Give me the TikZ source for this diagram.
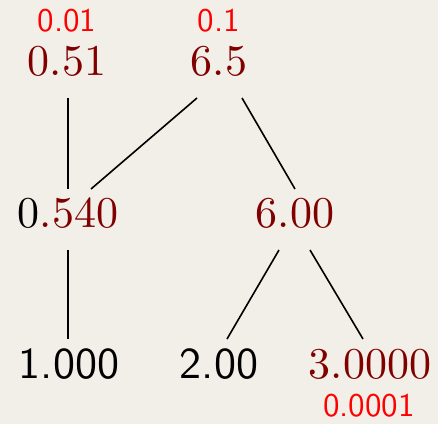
\documentclass[tikz,border=0pt]{standalone}
\usepackage{fontspec}
\setmainfont{lmroman10-regular}[Extension=.otf]
\setsansfont{lmsans10-regular}[Extension=.otf]
\usetikzlibrary{calc}
\definecolor{paper}{HTML}{F2EEE8}
\definecolor{darkred}{HTML}{800000}
\definecolor{tagred}{HTML}{FF0000}
\begin{document}
\begin{tikzpicture}[x=1pt,y=-1pt,
  numval/.style={anchor=base,inner sep=0pt,font=\fontsize{44}{50}\selectfont},
  approxval/.style={numval,text=darkred},
  exactval/.style={anchor=base,inner sep=0pt,font=\fontsize{44}{50}\selectfont\sffamily},
  errtag/.style={anchor=base,inner sep=0pt,text=tagred,font=\fontsize{33}{38}\selectfont\sffamily},
  link/.style={draw=black,line width=1.6pt}]
  % canvas
  \fill[paper] (0,0) rectangle (438,424);
  \useasboundingbox (0,0) rectangle (438,424);

  % top row
  \node[approxval] (n051) at (67,75) {0.51};
  \node[approxval] (n65) at (219,75) {6.5};
  \node[errtag] (l001) at (67,31) {0.01};
  \node[errtag] (l01) at (219,31) {0.1};

  % middle row
  \node[numval] (n0540) at (68,227) {0\textcolor{darkred}{.540}};
  \node[approxval] (n600) at (295,227) {6.00};

  % bottom row
  \node[exactval] (n1000) at (69,378) {1.000};
  \node[exactval] (n200) at (219,378) {2.00};
  \node[approxval] (n30000) at (370,378) {3.0000};
  \node[errtag] (l00001) at (369,416) {0.0001};

  % connectors
  \draw[link] ($(n051.base)+(1,23)$) -- ($(n0540.base)+(0,-38)$);
  \draw[link] ($(n65.base)+(-22,23)$) -- ($(n0540.base)+(23,-38)$);
  \draw[link] ($(n65.base)+(23,23)$) -- ($(n600.base)+(0,-38)$);
  \draw[link] ($(n0540.base)+(0,23)$) -- ($(n1000.base)+(-1,-39)$);
  \draw[link] ($(n600.base)+(-16,23)$) -- ($(n200.base)+(8,-39)$);
  \draw[link] ($(n600.base)+(15,23)$) -- ($(n30000.base)+(-7,-39)$);
\end{tikzpicture}
\end{document}
